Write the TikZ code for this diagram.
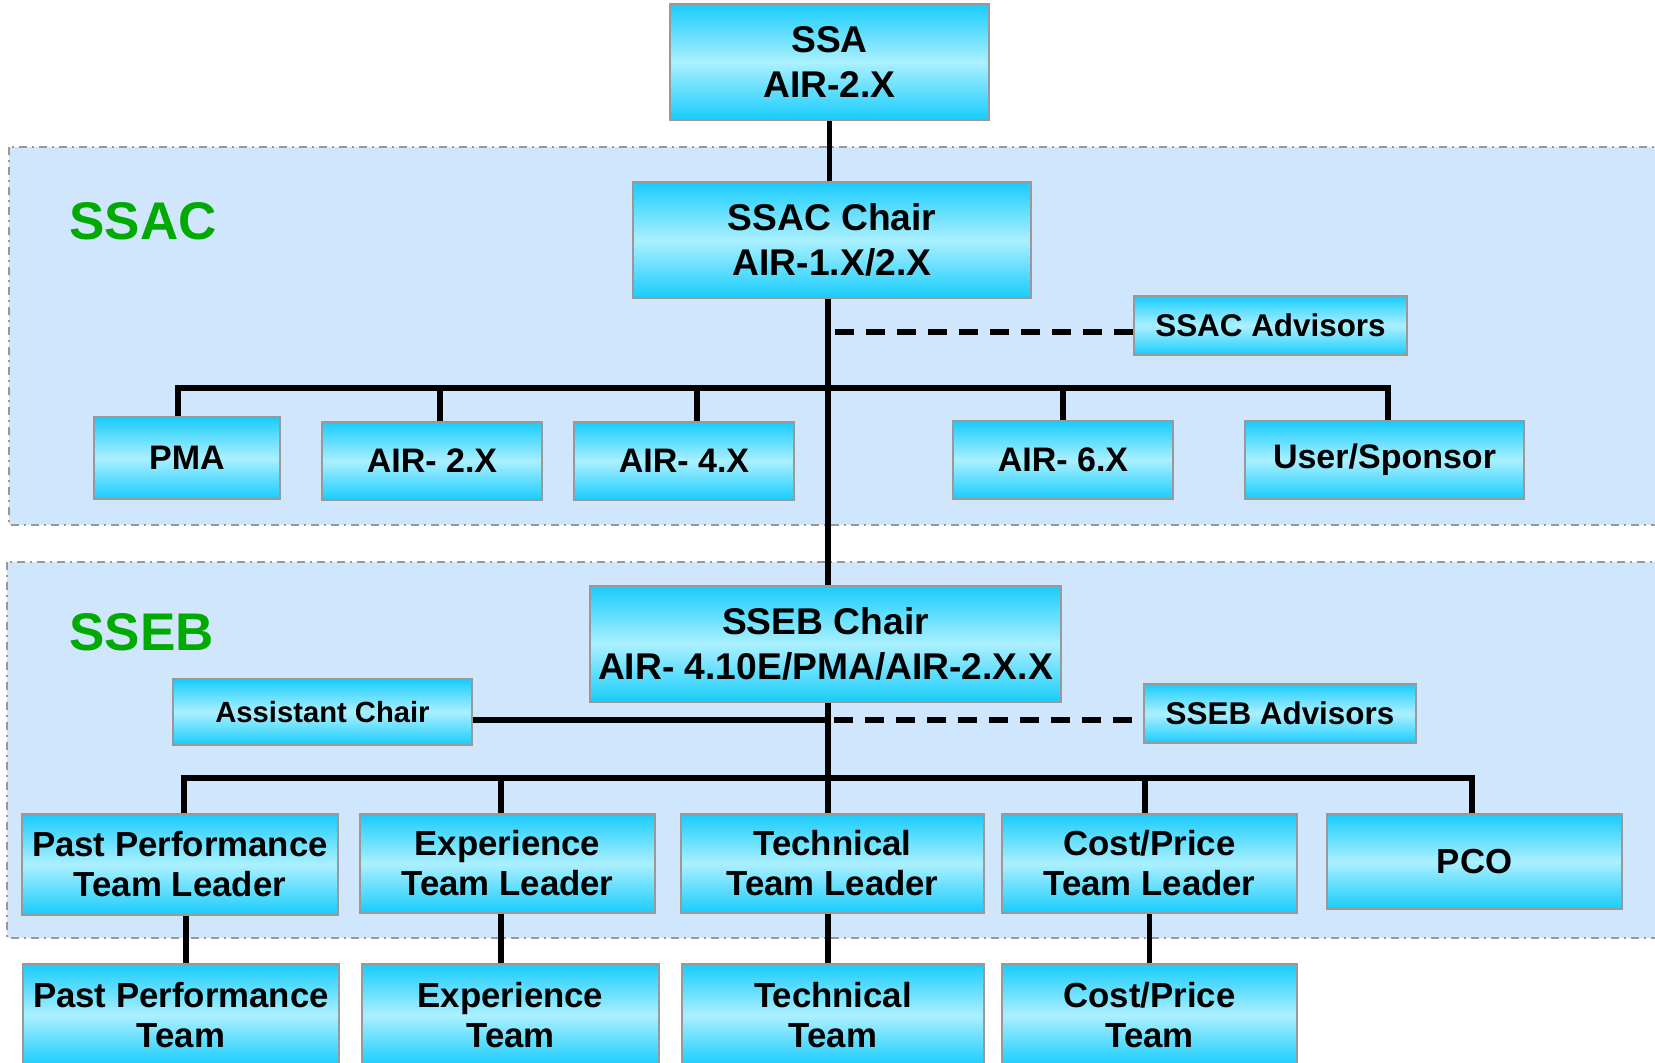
\documentclass[tikz,border=0pt]{standalone}
\usepackage{fontspec}
\setmainfont{Liberation Sans}
\definecolor{cyantop}{HTML}{18CCFC}
\definecolor{cyanmid}{HTML}{ABF0FF}
\definecolor{boxgray}{HTML}{999999}
\definecolor{regionfill}{HTML}{D0E6FD}
\definecolor{regionline}{HTML}{999999}
\definecolor{labelgreen}{HTML}{00AA00}
\pgfdeclarelayer{regions}
\pgfdeclarelayer{lines}
\pgfsetlayers{regions,lines,main}
\tikzset{
  box/.style={draw=boxgray, line width=1.2pt, top color=cyantop, bottom color=cyantop, middle color=cyanmid, inner sep=0pt, align=center},
  fbig/.style={font=\bfseries\fontsize{18.6}{22.5}\selectfont},
  fmid/.style={font=\bfseries\fontsize{17}{20}\selectfont},
  fteam/.style={font=\bfseries\fontsize{17.4}{20}\selectfont},
  fadv/.style={font=\bfseries\fontsize{15.7}{18}\selectfont},
  fasst/.style={font=\bfseries\fontsize{14.6}{17}\selectfont},
  region/.style={fill=regionfill, draw=regionline, line width=1pt, dash pattern=on 4pt off 2.5pt on 1pt off 2.5pt},
  grouplabel/.style={font=\bfseries\fontsize{26.5}{30}\selectfont, text=labelgreen, anchor=base west, inner sep=0pt},
  conn/.style={line width=2.8pt, black},
  dashconn/.style={conn, dash pattern=on 9.5pt off 6pt},
}
\begin{document}
\begin{tikzpicture}[x=0.5pt,y=-0.5pt]
\path[use as bounding box, clip] (0,0) rectangle (1655,1063);
\begin{pgfonlayer}{regions}
\fill[white] (0,0) rectangle (1655,1063);
\path[region] (9,147) rectangle (1680,525);
\path[region] (7,562) rectangle (1680,938);
\end{pgfonlayer}
\node[grouplabel] (lssac) at (69,240) {SSAC};
\node[grouplabel] (lsseb) at (69,651) {SSEB};
% coordinates
\coordinate (spx) at (828,0);
\coordinate (dashstart) at (834,0);
\coordinate (busL) at (178,388);
\coordinate (busR) at (1388,388);
\coordinate (bustwoL) at (184,778);
\coordinate (bustwoR) at (1472,778);
% boxes
\node[box, fbig, minimum width=159.5pt, minimum height=58pt] (ssa) at (829.5,62) {SSA\\AIR-2.X};
\node[box, fbig, minimum width=199pt, minimum height=58pt] (ssacc) at (832,240) {SSAC Chair\\AIR-1.X/2.X};
\node[box, fadv, minimum width=136.5pt, minimum height=29.5pt] (ssacadv) at (1270.5,325.5) {SSAC Advisors};
\node[box, fmid, minimum width=93pt, minimum height=41pt] (pma) at (187,458) {PMA};
\node[box, fmid, minimum width=110pt, minimum height=39pt] (air2) at (432,461) {AIR- 2.X};
\node[box, fmid, minimum width=110pt, minimum height=39pt] (air4) at (684,461) {AIR- 4.X};
\node[box, fmid, minimum width=110pt, minimum height=39pt] (air6) at (1063,460) {AIR- 6.X};
\node[box, fmid, minimum width=139.5pt, minimum height=39pt] (user) at (1384.5,460) {User/Sponsor};
\node[box, fbig, minimum width=235.5pt, minimum height=58pt] (ssebc) at (825.5,644) {SSEB Chair\\AIR- 4.10E/PMA/AIR-2.X.X};
\node[box, fasst, minimum width=149.5pt, minimum height=33pt] (asst) at (322.5,712) {Assistant Chair};
\node[box, fadv, minimum width=136pt, minimum height=29.5pt] (ssebadv) at (1280,713.5) {SSEB Advisors};
\node[box, fteam, minimum width=158pt, minimum height=50.5pt] (pptl) at (180,864.5) {Past Performance\\Team Leader};
\node[box, fteam, minimum width=147.5pt, minimum height=49.5pt] (exptl) at (507.5,863.5) {Experience\\Team Leader};
\node[box, fteam, minimum width=151.5pt, minimum height=49.5pt] (techtl) at (832.5,863.5) {Technical\\Team Leader};
\node[box, fteam, minimum width=147.5pt, minimum height=49.5pt] (costtl) at (1149.5,863.5) {Cost/Price\\Team Leader};
\node[box, fteam, minimum width=147.5pt, minimum height=47.5pt] (pco) at (1474.5,861.5) {PCO};
\node[box, fteam, minimum width=158pt, minimum height=51pt] (ppt) at (181,1015) {Past Performance\\Team};
\node[box, fteam, minimum width=148.5pt, minimum height=51pt] (expt) at (510.5,1015) {Experience\\Team};
\node[box, fteam, minimum width=151pt, minimum height=51pt] (techt) at (833,1015) {Technical\\Team};
\node[box, fteam, minimum width=147.5pt, minimum height=51pt] (costt) at (1149.5,1015) {Cost/Price\\Team};
% connectors
\begin{pgfonlayer}{lines}
\draw[conn] (ssa.south) -- (ssa.south |- ssacc.north);
\draw[conn] (ssacc.south -| spx) -- (ssebc.north -| spx);
% SSAC bus
\draw[conn] (pma.north -| busL) -- (busL) -- (busR) -- (user.north -| busR);
\draw[conn] ([xshift=4pt]air2.north) -- ([xshift=4pt]air2.north |- busL);
\draw[conn] ([xshift=6.5pt]air4.north) -- ([xshift=6.5pt]air4.north |- busL);
\draw[conn] (air6.north) -- (air6.north |- busL);
\draw[dashconn] ([yshift=-3.25pt]ssacadv.west) -- ([yshift=-3.25pt]ssacadv.west -| dashstart);
% SSEB
\draw[conn] ([yshift=-4pt]asst.east) -- ([yshift=-4pt]asst.east -| spx);
\draw[dashconn] ([yshift=-3.25pt]ssebadv.west -| dashstart) -- ([yshift=-3.25pt]ssebadv.west);
\draw[conn] (ssebc.south -| spx) -- (techtl.north -| spx);
\draw[conn] (pptl.north -| bustwoL) -- (bustwoL) -- (bustwoR) -- (pco.north -| bustwoR);
\draw[conn] ([xshift=-3.25pt]exptl.north) -- ([xshift=-3.25pt]exptl.north |- bustwoL);
\draw[conn] ([xshift=-2.25pt]costtl.north) -- ([xshift=-2.25pt]costtl.north |- bustwoL);
% team leader to team
\draw[conn] ([xshift=3pt]pptl.south) -- ([xshift=3pt]pptl.south |- ppt.north);
\draw[conn] ([xshift=-3.25pt]exptl.south) -- ([xshift=-3.25pt]exptl.south |- expt.north);
\draw[conn] (techtl.south -| spx) -- (techt.north -| spx);
\draw[conn] (costtl.south) -- (costt.north);
\end{pgfonlayer}
\end{tikzpicture}
\end{document}
